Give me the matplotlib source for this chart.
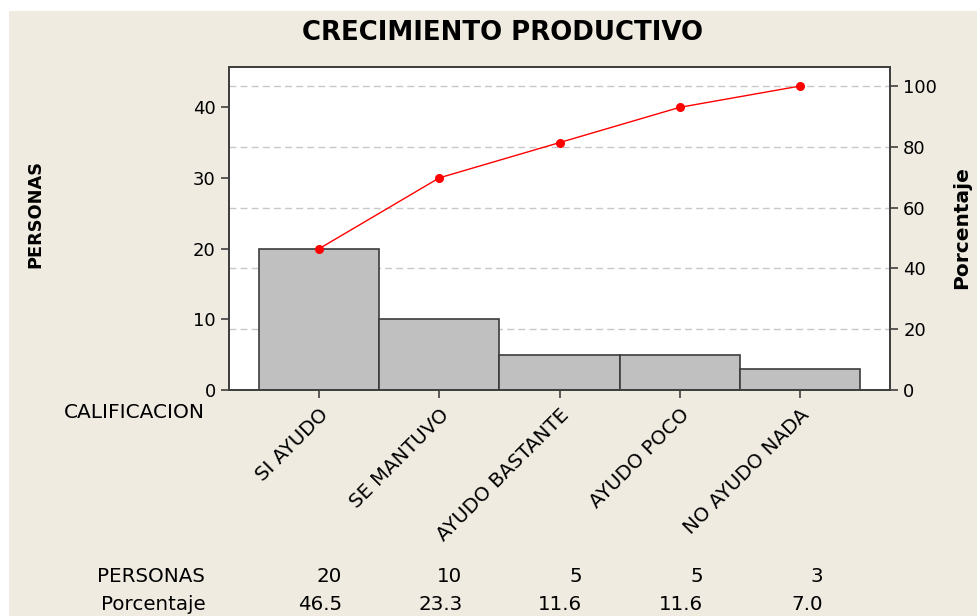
import matplotlib
matplotlib.use("Agg")
import matplotlib.pyplot as plt
from matplotlib.patches import Rectangle
import matplotlib.transforms as mtransforms

categories = ["SI AYUDO", "SE MANTUVO", "AYUDO BASTANTE", "AYUDO POCO", "NO AYUDO NADA"]
personas = [20, 10, 5, 5, 3]
porcentaje = [46.5, 23.3, 11.6, 11.6, 7.0]
acumulado = [46.5, 69.8, 81.4, 93.0, 100.0]
pct_ticks = [0, 20, 40, 60, 80, 100]
count_ticks = [0, 10, 20, 30, 40]

W, H = 977, 616
BG = "#EFEBE1"
fig = plt.figure(figsize=(W / 100, H / 100), dpi=100, facecolor="white")
fig.patches.append(Rectangle((9 / W, 0), 1 - 9 / W, 1 - 11 / H, transform=fig.transFigure,
                             facecolor=BG, edgecolor="none", zorder=-10))

ax = fig.add_axes([229 / W, 1 - 390 / H, (890 - 229) / W, (390 - 67) / H])
total = sum(personas)
ymax = 45.7
ax.set_ylim(0, ymax)
ax.set_xlim(-0.75, 4.75)
x = list(range(len(categories)))

for p in pct_ticks[1:]:
    ax.axhline(p * total / 100, color="#C8C8C8", lw=1, ls=(0, (5, 3)), zorder=0)

ax.bar(x, personas, width=1.0, color="#C0C0C0", edgecolor="#3C3C3C", linewidth=1.2, zorder=2)

ax2 = ax.twinx()
ax2.set_ylim(0, ymax / total * 100)
ax2.plot(x, acumulado, color="#FF0000", lw=1, marker="o", markersize=5.5, zorder=3)
ax2.set_yticks(pct_ticks)

ax.set_yticks(count_ticks)
ax.set_xticks(x)
ax.set_xticklabels(categories, rotation=45, ha="right", va="top", rotation_mode="anchor",
                   fontsize=14.2)

spine_c = "#404040"
for a in (ax, ax2):
    for s in a.spines.values():
        s.set_color(spine_c)
        s.set_linewidth(1.4)
    a.tick_params(direction="out", length=6, width=1.2, color=spine_c, labelsize=13)
ax.tick_params(axis="x", pad=5, labelsize=14.2)

fig.text(502 / W, 1 - 33 / H, "CRECIMIENTO PRODUCTIVO", ha="center", va="center",
         fontsize=18.7, fontweight="bold")
fig.text(35 / W, 1 - 214 / H, "PERSONAS", rotation=90, ha="center", va="center",
         fontsize=12.8, fontweight="bold")
fig.text(962 / W, 1 - 228 / H, "Porcentaje", rotation=90, ha="center", va="center",
         fontsize=14.5, fontweight="bold")
fig.text(205 / W, 1 - 413 / H, "CALIFICACION", ha="right", va="center", fontsize=14.5)

fig.text(205 / W, 1 - 576 / H, "PERSONAS", ha="right", va="center", fontsize=14.3)
fig.text(206 / W, 1 - 605 / H, "Porcentaje", ha="right", va="center", fontsize=14.3)

trans = mtransforms.blended_transform_factory(ax.transData, fig.transFigure)
off = mtransforms.ScaledTranslation(0.23, 0, fig.dpi_scale_trans)
for i in x:
    fig.text(i, 1 - 576 / H, f"{personas[i]}", ha="right", va="center", fontsize=14.3,
             transform=trans + off)
    fig.text(i, 1 - 605 / H, f"{porcentaje[i]:.1f}", ha="right", va="center", fontsize=14.3,
             transform=trans + off)

fig.savefig("out.png", dpi=100, facecolor=fig.get_facecolor())
